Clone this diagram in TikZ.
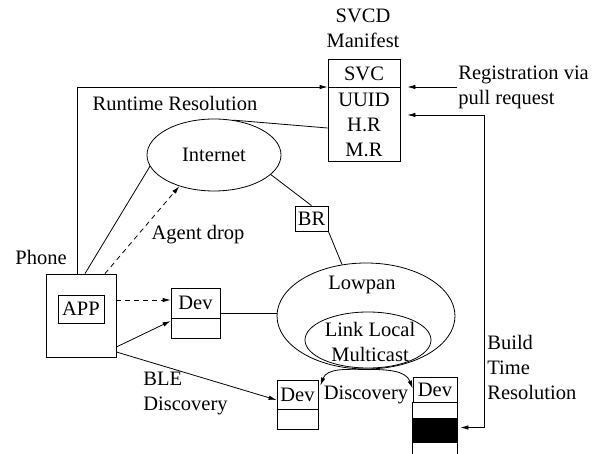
\documentclass[tikz,border=0pt]{standalone}
\usepackage{fontspec}
\setmainfont{Liberation Serif}
\usetikzlibrary{arrows.meta,positioning}
\usetikzlibrary{shapes.geometric}

\begin{document}
\begin{tikzpicture}
	[x=1pt,y=-1pt,line width=0.8pt,
	every node/.style={font=\fontsize{20.5}{25}\selectfont},
	box/.style={draw,rectangle,inner sep=0pt},
	cloud/.style={draw,ellipse,inner sep=0pt},
	txt/.style={draw=none,fill=none,align=center,inner sep=1pt},
	arr/.style={-{Latex[length=8pt,width=4.5pt]}},
	dashline/.style={dash pattern=on 5pt off 4pt}]
	
		\useasboundingbox (0,0) rectangle (602,454);
		
		% manifest
		\node[txt] (svcd) at (363,28) {SVCD\\Manifest};
		\node[box,minimum width=72pt,minimum height=102pt] (manifest) at (364,110) {};
		\node[txt] (svc) at (364,74) {SVC};
		\node[txt] (uuid) at (364,100) {UUID};
		\node[txt] (hr) at (364,125) {H.R};
		\node[txt] (mr) at (364,150) {M.R};
		\draw (manifest.west |- 0,87) -- (manifest.east |- 0,87);
		
		\node[txt,anchor=west,align=left] (reg) at (457,87) {Registration via\\pull request};
		\draw[arr,shorten >=7pt] (reg.west) -- (manifest.east |- reg.west);
		
		% phone
		\node[box,minimum width=70pt,minimum height=83pt] (phone) at (81,315.5) {};
		\node[box,minimum width=46pt,minimum height=28pt] (app) at (81,309) {APP};
		\node[txt] (phonelbl) at (41,257) {Phone};
		
		\draw[arr] ([xshift=-4pt]phone.north) |- (manifest.west |- 0,87);
		\node[txt] (rtr) at (175,103) {Runtime Resolution};
		
		% internet
		\node[cloud,minimum width=134pt,minimum height=72pt] (internet) at (214,155) {};
		\node[txt] (internetlbl) at (214,155) {Internet};
		\draw (internet.61) -- ([yshift=-18pt]manifest.west);
		\draw ([xshift=4pt]phone.north) -- (internet.190);
		\draw[arr,dashline] ([xshift=24pt]phone.north) -- (internet.222);
		\node[txt] (agent) at (198,235) {Agent drop};
		
		\node[box,minimum width=33pt,minimum height=25pt] (br) at (311.5,218.5) {BR};
		\draw (internet.-19) -- (br.north);
		
		% lowpan
		\node[cloud,minimum width=178pt,minimum height=106pt] (lowpan) at (366,316) {};
		\node[txt] (lowpanlbl) at (362,285) {Lowpan};
		\node[cloud,minimum width=126pt,minimum height=56pt] (llm) at (368,340) {};
		\node[txt] (llmlbl) at (370,342) {Link Local\\Multicast};
		\draw (br.south east) -- (lowpan.115);
		
		% devices
		\node[box,minimum width=49pt,minimum height=50pt] (dev1) at (195.5,313) {};
		\node[txt] (dev1lbl) at (195.5,303) {Dev};
		\draw (dev1.west |- 0,318) -- (dev1.east |- 0,318);
		
		\node[box,minimum width=41pt,minimum height=49pt] (dev2) at (297.5,404.5) {};
		\node[txt] (dev2lbl) at (297.5,394.5) {Dev};
		\draw (dev2.west |- 0,409) -- (dev2.east |- 0,409);
		
		\node[box,minimum width=44pt,minimum height=25pt] (dev3) at (435,389.5) {Dev};
		\node[fill=black,minimum width=44pt,minimum height=25pt,inner sep=0pt] (blk) at (435,430.5) {};
		\draw (dev3.south west) -- (dev3.south west |- 0,456);
		\draw (dev3.south east) -- (dev3.south east |- 0,456);
		
		\draw[arr,dashline] (phone.east |- 0,300) -- (dev1.west |- 0,300);
		\draw[arr] (phone.east |- 0,347) -- (dev1.west |- 0,321);
		\draw[arr] (phone.east |- 0,352) -- (dev2.west |- 0,400);
		\node[txt,anchor=west,align=left] (ble) at (142,393) {BLE\\Discovery};
		\draw (dev1.east) -- (dev1.east -| lowpan.west);
		
		\draw[arr] (lowpan.south) to[out=180,in=70] ([xshift=2pt,yshift=-6pt]dev2.north east);
		\draw[arr] (lowpan.south) to[out=0,in=110] ([yshift=-12pt]dev3.north west);
		\node[txt] (disc) at (366,395) {Discovery};
		
		% build time
		\node[txt,anchor=west,align=left] (build) at (486,367) {Build\\Time\\Resolution};
		\coordinate (bt) at (484,115);
		\draw[arr,shorten >=7pt] (bt) -- (bt -| manifest.east);
		\draw[arr,shorten >=3pt] (bt) |- ([yshift=3pt]blk.east);
	
\end{tikzpicture}
\end{document}
